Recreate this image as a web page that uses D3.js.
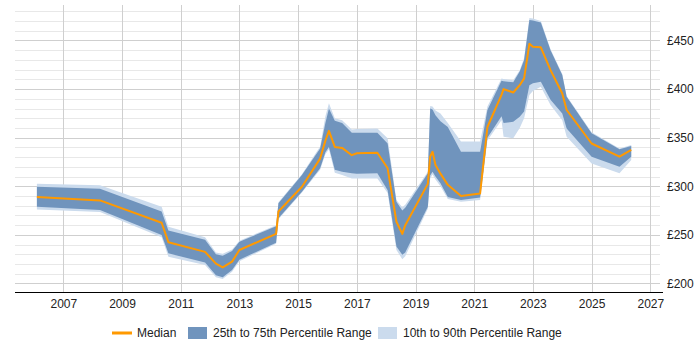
<!DOCTYPE html>
<html>
<head>
<meta charset="utf-8">
<script src="https://cdn.jsdelivr.net/npm/d3@7"></script>
<style>
  body { margin: 0; background: #fff; }
  text { font-family: "Liberation Sans", Arial, sans-serif; }
</style>
</head>
<body>
<script>
// sample dates as decimal years
const years = [2006.1, 2008.25, 2010.35, 2010.58, 2011.83, 2012.2, 2012.43, 2012.75, 2013.0, 2014.25,
  2014.33, 2015.13, 2015.75, 2015.93, 2016.05, 2016.25, 2016.5, 2016.83, 2017.0, 2017.7,
  2018.05, 2018.35, 2018.55, 2018.65, 2019.42, 2019.5, 2019.58, 2019.68, 2019.85, 2020.1,
  2020.55, 2021.2, 2021.45, 2021.93, 2022.0, 2022.33, 2022.55, 2022.7, 2022.88, 2023.0,
  2023.27, 2023.6, 2024.0, 2024.15, 2025.0, 2025.95, 2026.35];

const p10 = [276, 273.5, 247.5, 227.5, 219, 206.5, 204.5, 212, 223, 241,
  266, 293.5, 317, 333, 338, 314, 311.5, 308, 308, 308,
  293, 234.5, 225, 228, 277, 308, 312, 307, 300, 287,
  284, 286, 347, 368, 351, 349.5, 360, 370, 394, 398,
  402.5, 383.5, 368, 351, 323.5, 313.5, 327];

const p25 = [279, 275.5, 250, 231, 221.5, 208.5, 206.5, 214, 224.5, 242,
  267, 294.5, 318.5, 335, 340.5, 317, 315, 313.5, 313, 313.5,
  296, 238, 229.5, 232, 279, 311, 315, 310, 303, 289,
  286, 288.5, 350, 372, 365, 366.5, 371.5, 377, 404, 406,
  407.5, 389, 375, 359.5, 330.5, 320, 330.5];

const median = [289, 285.5, 262.5, 242.5, 232.5, 220.5, 216.5, 222.5, 234.5, 251,
  274, 299.5, 328.5, 347, 357, 340.5, 339.5, 332, 334, 334.5,
  318.5, 263.5, 251, 260, 302.5, 330.5, 335.5, 322, 313, 301.5,
  290, 292.5, 361, 394, 400, 396.5, 404, 411, 446.5, 443.5,
  443, 419.5, 395.5, 378.5, 344, 330.5, 337.5];

const p75 = [299.5, 297.5, 274, 254.5, 245, 230, 228.5, 233.5, 243, 259,
  282.5, 311.5, 339, 365, 380, 367.5, 365, 355, 355, 355,
  344, 284, 275, 278, 313.5, 380, 379, 373, 367, 361,
  335.5, 335.5, 378.5, 408.5, 408, 407, 418, 430, 471, 470.5,
  468.5, 440, 414.5, 392, 354.5, 338, 341.5];

const p90 = [302.5, 301, 279, 258.5, 247.5, 232, 230.5, 235, 244, 260,
  283.5, 312.5, 341, 372, 385.5, 370, 368, 358.5, 359, 359.5,
  349.5, 286, 278.5, 281, 315, 382.5, 382, 378, 375, 365,
  346, 346, 382, 411, 410.5, 409, 419.5, 432, 473, 472.5,
  470, 441, 415.5, 393, 355.5, 339, 342.5];

const xTicks = [2007, 2009, 2011, 2013, 2015, 2017, 2019, 2021, 2023, 2025, 2027];
const yTicks = [200, 250, 300, 350, 400, 450];
const legendLabels = ['Median', '25th to 75th Percentile Range', '10th to 90th Percentile Range'];

const colors = { median: '#ff9900', inner: '#7094bd', outer: '#cbdbed' };

const width = 700, height = 350;
const plot = { left: 15, right: 660, top: 5, bottom: 292 };

const svg = d3.select('body').append('svg')
  .attr('width', width).attr('height', height);

const x = d3.scaleLinear().domain([2005.354, 2027.33]).range([plot.left, plot.right]);
const y = d3.scaleLinear().domain([191.25, 486.5]).range([plot.bottom, plot.top]);

const rows = years.map((yr, i) => ({
  yr, p10: p10[i], p25: p25[i], med: median[i], p75: p75[i], p90: p90[i]
}));

// minor + major horizontal grid
const minor = d3.range(200, 490, 10).filter(v => v % 50 !== 0);
svg.append('g').selectAll('line').data(minor).enter().append('line')
  .attr('x1', plot.left).attr('x2', plot.right)
  .attr('y1', d => Math.round(y(d)) + 0.5).attr('y2', d => Math.round(y(d)) + 0.5)
  .attr('stroke', '#e8e8e8');
svg.append('g').selectAll('line').data(yTicks).enter().append('line')
  .attr('x1', plot.left).attr('x2', plot.right)
  .attr('y1', d => Math.round(y(d)) + 0.5).attr('y2', d => Math.round(y(d)) + 0.5)
  .attr('stroke', '#cfcfcf');

// vertical grid
svg.append('g').selectAll('line').data(xTicks).enter().append('line')
  .attr('x1', d => Math.round(x(d)) + 0.5).attr('x2', d => Math.round(x(d)) + 0.5)
  .attr('y1', plot.top).attr('y2', plot.bottom)
  .attr('stroke', '#cfcfcf');

// bands
const band = (lo, hi) => d3.area().x(d => x(d.yr)).y0(d => y(d[lo])).y1(d => y(d[hi]));
svg.append('path').datum(rows).attr('d', band('p10', 'p90')).attr('fill', colors.outer);
svg.append('path').datum(rows).attr('d', band('p25', 'p75')).attr('fill', colors.inner);

svg.append('path').datum(rows)
  .attr('d', d3.line().x(d => x(d.yr)).y(d => y(d.med)))
  .attr('fill', 'none').attr('stroke', colors.median).attr('stroke-width', 2)
  .attr('stroke-linejoin', 'round');

// x axis
const xAxis = svg.append('g').attr('transform', `translate(0,${plot.bottom + 0.5})`)
  .call(d3.axisBottom(x).tickValues(xTicks).tickFormat(d3.format('d')).tickSize(0).tickPadding(7));
xAxis.select('.domain').attr('d', `M${plot.left},0H663`).attr('stroke', '#000');
xAxis.selectAll('text').attr('font-size', 12).attr('fill', '#222')
  .attr('font-family', '"Liberation Sans", Arial, sans-serif');

// y axis on right
const yAxis = svg.append('g').attr('transform', `translate(${plot.right + 7},0)`)
  .call(d3.axisRight(y).tickValues(yTicks).tickFormat(d => '£' + d).tickSize(0).tickPadding(0));
yAxis.select('.domain').remove();
yAxis.selectAll('text').attr('font-size', 12).attr('fill', '#222')
  .attr('font-family', '"Liberation Sans", Arial, sans-serif');

// legend
const lg = svg.append('g').attr('transform', 'translate(0,333)');
lg.append('line').attr('x1', 112).attr('x2', 132).attr('y1', 0).attr('y2', 0)
  .attr('stroke', colors.median).attr('stroke-width', 3);
lg.append('rect').attr('x', 188).attr('y', -6).attr('width', 19).attr('height', 12).attr('fill', colors.inner);
lg.append('rect').attr('x', 378).attr('y', -6).attr('width', 19).attr('height', 12).attr('fill', colors.outer);
const lx = [137, 213, 403];
lg.selectAll('text.lbl').data(legendLabels).enter().append('text')
  .attr('x', (d, i) => lx[i]).attr('y', 4)
  .attr('font-size', 12).attr('fill', '#222')
  .text(d => d);
</script>
</body>
</html>
